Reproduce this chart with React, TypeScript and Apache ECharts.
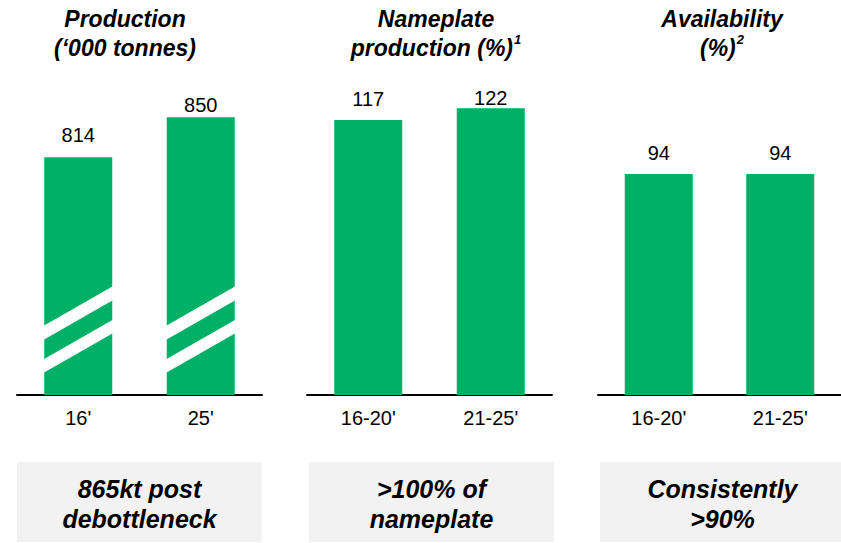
import React, { useEffect, useRef } from "react";
import * as echarts from "echarts";

// ---- data ----
const prodCategories = ["16'", "25'"];
const prodValues = [814, 850];
const nameplateCategories = ["16-20'", "21-25'"];
const nameplateValues = [117, 122];
const availCategories = ["16-20'", "21-25'"];
const availValues = [94, 94];

const titles = [
  ["Production", "(‘000 tonnes)", ""],
  ["Nameplate", "production (%)", "1"],
  ["Availability", "(%)", "2"],
];
const boxTexts = [
  "865kt post\ndebottleneck",
  ">100% of\nnameplate",
  "Consistently\n>90%",
];

// ---- layout / style ----
const GREEN = "#00B067";
const FONT = "'Liberation Sans', Arial, Helvetica, sans-serif";
const GRID_TOP = 89.5;
const GRID_H = 305.5;
const GRID_W = 245;
const gridLefts = [17, 307, 598];
const titleCenters = [125, 436, 722];
const boxLefts = [17, 309, 600];
const labelDistances = [
  [12.5, 2],
  [11.5, 0],
  [11.5, 11.5],
];

export default function App() {
  const ref = useRef<HTMLDivElement>(null);

  useEffect(() => {
    document.body.style.margin = "0";
    if (!ref.current) return;
    const chart = echarts.init(ref.current, null, { renderer: "svg" });

    const cats = [prodCategories, nameplateCategories, availCategories];
    const vals = [prodValues, nameplateValues, availValues];
    const yRanges = [
      [600, 875],
      [0, 130],
      [0, 130],
    ];

    const grid = gridLefts.map((l) => ({
      left: l,
      top: GRID_TOP,
      width: GRID_W,
      height: GRID_H,
      containLabel: false,
    }));

    const xAxis = cats.map((c, i) => ({
      type: "category",
      gridIndex: i,
      data: c,
      axisLine: { show: true, lineStyle: { color: "#000", width: 2 } },
      axisTick: { show: false },
      axisLabel: {
        color: "#000",
        fontSize: 20,
        fontFamily: FONT,
        margin: 13,
      },
      splitLine: { show: false },
    }));

    const yAxis = yRanges.map((r, i) => ({
      type: "value",
      gridIndex: i,
      min: r[0],
      max: r[1],
      show: false,
      splitLine: { show: false },
    }));

    const barSeries = vals.map((v, i) => ({
      type: "bar",
      xAxisIndex: i,
      yAxisIndex: i,
      barWidth: 68,
      itemStyle: { color: GREEN },
      data: v.map((val, j) => ({
        value: val,
        label: { distance: labelDistances[i][j] },
      })),
      label: {
        show: true,
        position: "top",
        color: "#000",
        fontSize: 20,
        fontFamily: FONT,
      },
      z: 2,
    }));

    const breakSeries = {
      type: "custom",
      xAxisIndex: 0,
      yAxisIndex: 0,
      z: 5,
      silent: true,
      data: prodValues.map((v, i) => [i, v]),
      renderItem: (params: any, api: any) => {
        const idx = api.value(0);
        const base = api.coord([idx, yRanges[0][0]]);
        const cx = base[0];
        const by = base[1];
        const x0 = cx - 35;
        const x1 = cx + 35;
        const white = { fill: "#fff" };
        return {
          type: "group",
          children: [
            {
              type: "polygon",
              shape: {
                points: [
                  [x0, by - 69],
                  [x1, by - 109],
                  [x1, by - 95],
                  [x0, by - 55],
                ],
              },
              style: white,
            },
            {
              type: "polygon",
              shape: {
                points: [
                  [x0, by - 35.5],
                  [x1, by - 75.5],
                  [x1, by - 62],
                  [x0, by - 22],
                ],
              },
              style: white,
            },
          ],
        };
      },
    };

    const graphic: any[] = [];
    titles.forEach((t, i) => {
      const text = t[2]
        ? `{t|${t[0]}}\n{t|${t[1]}}{s|${t[2]}}`
        : `{t|${t[0]}}\n{t|${t[1]}}`;
      graphic.push({
        type: "text",
        x: titleCenters[i],
        y: 33,
        style: {
          text,
          align: "center",
          verticalAlign: "middle",
          rich: {
            t: {
              fontSize: 23,
              fontWeight: "bold",
              fontStyle: "italic",
              fontFamily: FONT,
              fill: "#000",
              lineHeight: 29,
            },
            s: {
              fontSize: 13,
              fontWeight: "bold",
              fontStyle: "italic",
              fontFamily: FONT,
              fill: "#000",
              lineHeight: 29,
              verticalAlign: "top",
              padding: [0, 0, 10, 1],
            },
          },
        },
      });
    });
    boxLefts.forEach((l, i) => {
      graphic.push({
        type: "rect",
        shape: { x: l, y: 462, width: 245, height: 80 },
        style: { fill: "#F2F2F2" },
        z: 0,
      });
      graphic.push({
        type: "text",
        x: l + 122.5,
        y: 504,
        style: {
          text: boxTexts[i],
          align: "center",
          verticalAlign: "middle",
          fontSize: 25,
          lineHeight: 30,
          fontWeight: "bold",
          fontStyle: "italic",
          fontFamily: FONT,
          fill: "#000",
        },
        z: 1,
      });
    });

    chart.setOption({
      animation: false,
      backgroundColor: "#fff",
      grid,
      xAxis,
      yAxis,
      series: [...barSeries, breakSeries],
      graphic,
    } as any);

    return () => chart.dispose();
  }, []);

  return <div ref={ref} style={{ width: 841, height: 543 }} />;
}
